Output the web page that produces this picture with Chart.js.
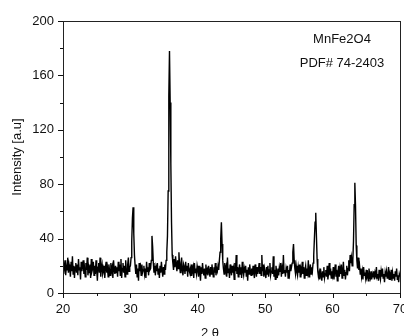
<!DOCTYPE html>
<html>
<head>
<meta charset="utf-8">
<script src="https://cdn.jsdelivr.net/npm/chart.js@4/dist/chart.umd.min.js"></script>
<style>
  html, body { margin: 0; padding: 0; background: #fff; }
</style>
</head>
<body>
<canvas id="xrdChart" width="404" height="336"></canvas>
<script>
// 2-theta sampling of the scan
const angleStart = 20;
const angleStep = 0.1;

// intensity readings, one row per degree (10 samples each)
const counts20s = [
  22,14,19,24,13,20,17,26,15,21,
  18,12,23,16,27,14,20,11,19,22,
  15,21,13,25,17,19,10,23,16,20,
  24,14,18,12,22,17,26,13,19,15,
  21,11,25,16,18,23,13,20,14,24,
  17,9,19,22,15,26,12,18,21,14,
  16,20,11,19,23,15,18,12,21,17,
  13,22,16,19,11,24,17,14,20,15,
  19,12,23,16,21,13,25,11,18,22,
  15,20,12,24,17,14,21,26,16,19
];
const counts30s = [
  20,26,38,55,63,44,28,20,14,21,
  12,18,9,22,16,19,13,21,15,17,
  20,14,18,11,23,16,19,13,22,17,
  18,24,42,34,22,15,20,13,19,16,
  22,14,18,11,20,15,23,17,12,19,
  14,21,17,24,30,42,75,145,178,140,
  95,52,28,22,17,25,19,27,21,16,
  24,18,30,20,15,22,26,17,13,21,
  19,14,23,16,20,12,22,17,15,18,
  13,21,16,19,11,22,15,18,14,20
];
const counts40s = [
  17,12,20,15,9,19,14,22,16,13,
  18,11,21,15,17,13,20,16,12,19,
  14,21,16,12,19,15,22,13,18,16,
  20,17,24,30,40,52,36,24,18,14,
  22,16,19,12,26,15,18,11,21,17,
  13,20,15,18,10,22,16,28,14,19,
  12,17,21,14,19,11,23,16,13,18,
  15,20,12,17,9,19,14,21,16,13,
  18,13,20,15,11,21,16,12,19,14,
  17,22,14,19,13,28,16,21,12,18
];
const counts50s = [
  15,11,19,14,20,12,17,22,13,16,
  19,14,27,12,17,10,20,15,11,18,
  13,19,16,22,12,18,14,28,15,17,
  12,18,15,20,11,17,14,21,16,19,
  22,30,36,24,18,14,20,16,13,19,
  15,21,12,18,16,23,14,19,11,17,
  20,13,18,15,24,12,17,21,14,19,
  16,22,28,40,52,59,42,25,16,12,
  15,10,18,13,9,16,12,19,11,14,
  17,12,20,10,15,22,13,18,11,16
];
const counts60s = [
  13,19,10,16,21,12,17,9,15,20,
  12,18,14,21,11,16,23,13,17,10,
  15,20,13,18,24,16,28,22,26,20,
  24,38,65,81,64,35,24,18,26,17,
  20,14,18,12,16,10,19,13,15,11,
  17,12,14,9,18,13,11,16,10,14,
  12,16,10,15,13,19,11,14,9,17,
  13,10,16,12,18,11,14,8,15,12,
  16,11,13,19,10,14,12,17,9,15,
  11,14,9,16,12,18,10,13,8,14,
  12
];

const xTickLabels = [20, 30, 40, 50, 60, 70];
const yTickLabels = [0, 40, 80, 120, 160, 200];
const xTitle = '2 \u03b8';
const yTitle = 'Intensity [a.u]';
const sampleNotes = ['MnFe2O4', 'PDF# 74-2403'];

const intensity = [].concat(counts20s, counts30s, counts40s, counts50s, counts60s);
const points = intensity.map((v, i) => ({ x: +(angleStart + i * angleStep).toFixed(1), y: v }));

const fontFamily = '"Liberation Sans", Arial, sans-serif';
const inkColor = '#111';

// frame, minor/major tick marks, titles and the sample note
const framePlugin = {
  id: 'frame',
  afterDraw(chart) {
    const { ctx, chartArea: a, scales: { x, y } } = chart;
    ctx.save();
    ctx.strokeStyle = '#222';
    ctx.lineWidth = 1;
    ctx.strokeRect(a.left + 0.5, a.top + 0.5, a.right - a.left, a.bottom - a.top);

    ctx.strokeStyle = inkColor;
    ctx.beginPath();
    x.ticks.forEach(t => {
      const px = Math.round(x.getPixelForValue(t.value)) + 0.5;
      const len = xTickLabels.includes(t.value) ? 5 : 3;
      ctx.moveTo(px, a.bottom);
      ctx.lineTo(px, a.bottom + len);
    });
    y.ticks.forEach(t => {
      const py = Math.round(y.getPixelForValue(t.value)) + 0.5;
      const len = yTickLabels.includes(t.value) ? 5 : 3;
      ctx.moveTo(a.left, py);
      ctx.lineTo(a.left - len, py);
    });
    ctx.stroke();

    ctx.fillStyle = inkColor;
    ctx.font = '13px ' + fontFamily;
    ctx.textAlign = 'center';
    ctx.textBaseline = 'middle';
    ctx.fillText(xTitle, a.left + 147, a.bottom + 40);
    ctx.fillText(sampleNotes[0], a.right - 58, a.top + 18);
    ctx.fillText(sampleNotes[1], a.right - 58, a.top + 42);

    ctx.translate(a.left - 46, (a.top + a.bottom) / 2);
    ctx.rotate(-Math.PI / 2);
    ctx.fillText(yTitle, 0, 0);
    ctx.restore();
  }
};

new Chart(document.getElementById('xrdChart'), {
  type: 'line',
  data: {
    datasets: [{
      data: points,
      borderColor: '#000',
      borderWidth: 1.4,
      pointRadius: 0,
      tension: 0,
      fill: false
    }]
  },
  options: {
    responsive: false,
    animation: false,
    layout: { padding: { top: 21, right: 4, left: 0, bottom: 0 } },
    plugins: { legend: { display: false }, tooltip: { enabled: false } },
    scales: {
      x: {
        type: 'linear',
        min: 20,
        max: 70,
        border: { display: false },
        grid: { display: true, drawOnChartArea: false, tickLength: 5, tickColor: 'rgba(0,0,0,0)' },
        ticks: {
          stepSize: 5,
          autoSkip: false,
          maxRotation: 0,
          padding: 4,
          color: inkColor,
          font: { family: fontFamily, size: 13 },
          callback: v => xTickLabels.includes(v) ? v : ''
        },
        afterFit(scale) {
          scale.height = 43;
          scale.paddingLeft = 0;
          scale.paddingRight = 0;
        }
      },
      y: {
        min: 0,
        max: 200,
        border: { display: false },
        grid: { display: true, drawOnChartArea: false, tickLength: 5, tickColor: 'rgba(0,0,0,0)' },
        ticks: {
          stepSize: 20,
          autoSkip: false,
          padding: 4,
          color: inkColor,
          font: { family: fontFamily, size: 13 },
          callback: v => yTickLabels.includes(v) ? v : ''
        },
        afterFit(scale) {
          scale.width = 63;
        }
      }
    }
  },
  plugins: [framePlugin]
});
</script>
</body>
</html>
